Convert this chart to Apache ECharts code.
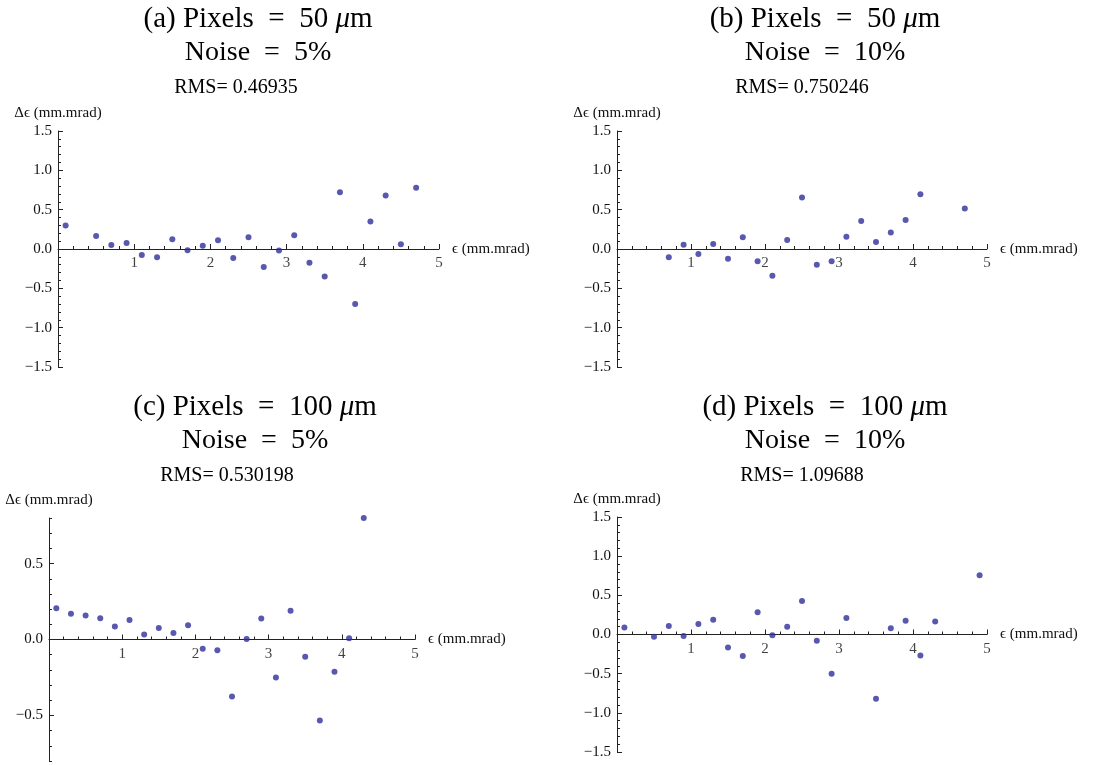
<!DOCTYPE html>
<html><head><meta charset="utf-8">
<script src="https://cdn.jsdelivr.net/npm/echarts@6/dist/echarts.min.js"></script>
<style>html,body{margin:0;padding:0;background:#fff}#c{width:1101px;height:765px}</style>
</head><body><div id="c"></div>
<script>
// ---------- data ----------
const xA = [0.1,0.5,0.7,0.9,1.1,1.3,1.5,1.7,1.9,2.1,2.3,2.5,2.7,2.9,3.1,3.3,3.5,3.7,3.9,4.1,4.3,4.5,4.7];
const yA = [0.30,0.165,0.05,0.075,-0.075,-0.105,0.125,-0.015,0.04,0.11,-0.115,0.15,-0.23,-0.02,0.175,-0.175,-0.35,0.72,-0.70,0.35,0.68,0.06,0.78];

const xB = [0.7,0.9,1.1,1.3,1.5,1.7,1.9,2.1,2.3,2.5,2.7,2.9,3.1,3.3,3.5,3.7,3.9,4.1,4.7];
const yB = [-0.105,0.055,-0.065,0.065,-0.125,0.15,-0.155,-0.34,0.115,0.655,-0.20,-0.155,0.155,0.355,0.09,0.21,0.37,0.695,0.515];

const xC = [0.1,0.3,0.5,0.7,0.9,1.1,1.3,1.5,1.7,1.9,2.1,2.3,2.5,2.7,2.9,3.1,3.3,3.5,3.7,3.9,4.1,4.3];
const yC = [0.205,0.17,0.158,0.14,0.086,0.129,0.033,0.075,0.042,0.094,-0.061,-0.07,-0.375,0.004,0.138,-0.25,0.189,-0.114,-0.533,-0.213,0.009,0.80];

const xD = [0.1,0.5,0.7,0.9,1.1,1.3,1.5,1.7,1.9,2.1,2.3,2.5,2.7,2.9,3.1,3.5,3.7,3.9,4.1,4.3,4.9];
const yD = [0.09,-0.03,0.11,-0.02,0.135,0.187,-0.166,-0.276,0.285,-0.008,0.098,0.429,-0.081,-0.501,0.212,-0.82,0.081,0.174,-0.268,0.166,0.756];

const panelLetters = ['(a)','(b)','(c)','(d)'];
const pixelSizes = [50, 50, 100, 100];
const noiseLevels = [5, 10, 5, 10];
const rmsValues = ['0.46935', '0.750246', '0.530198', '1.09688'];
const xRange = [0, 5];
const xTickLabels = [1, 2, 3, 4, 5];
const yRanges = [[-1.5, 1.5], [-1.5, 1.5], [-0.8, 0.8], [-1.5, 1.5]];
const yMajorTicksC = [-0.5, 0, 0.5];
const yAxisTitle = 'Δϵ (mm.mrad)';
const xAxisTitle = 'ϵ (mm.mrad)';

// ---------- layout ----------
const panelsX = [xA, xB, xC, xD];
const panelsY = [yA, yB, yC, yD];
const grids = [
  {left: 58, top: 131, width: 381, height: 236},
  {left: 617, top: 131, width: 370, height: 236},
  {left: 49, top: 518, width: 366, height: 243},
  {left: 617, top: 517, width: 370, height: 235}
];
const titlePos = [
  {cx: 258, rx: 236, y: 19},
  {cx: 825, rx: 802, y: 19},
  {cx: 255, rx: 227, y: 407},
  {cx: 825, rx: 802, y: 407}
];
const SERIF = '"Liberation Serif", "DejaVu Serif", serif';
const AX = '#222';
const DOT = '#2e2e9a';
const SP = '\u2002';

const yFmt = v => (v < 0 ? '\u2212' : '') + Math.abs(v).toFixed(1);

const option = {
  animation: false,
  backgroundColor: '#fff',
  grid: grids.map(g => Object.assign({outerBoundsMode: 'none'}, g)),
  xAxis: [], yAxis: [], series: [], graphic: []
};

grids.forEach((g, i) => {
  option.xAxis.push({
    type: 'value', gridIndex: i, min: xRange[0], max: xRange[1], interval: 1,
    name: xAxisTitle, nameLocation: 'end', nameGap: 13,
    nameTextStyle: {fontFamily: SERIF, fontSize: 15, color: '#111', align: 'left', verticalAlign: 'middle'},
    axisLine: {show: true, onZero: true, lineStyle: {color: AX, width: 1}},
    axisTick: {show: true, inside: true, length: 5, lineStyle: {color: AX}},
    minorTick: {show: true, splitNumber: 5, length: 3, lineStyle: {color: AX}},
    axisLabel: {show: false},
    splitLine: {show: false}
  });
  const yr = yRanges[i];
  if (i === 2) {
    option.yAxis.push({
      type: 'value', gridIndex: i, min: yr[0], max: yr[1], interval: 0.1,
      name: yAxisTitle, nameLocation: 'end', nameGap: 10,
      nameTextStyle: {fontFamily: SERIF, fontSize: 15, color: '#111', align: 'center'},
      axisLine: {show: true, onZero: false, lineStyle: {color: AX, width: 1}},
      axisTick: {show: true, inside: true, length: 3, lineStyle: {color: AX}},
      axisLabel: {customValues: yMajorTicksC, formatter: yFmt, fontFamily: SERIF, fontSize: 15, color: '#111', margin: 6},
      splitLine: {show: false}
    });
  } else {
    option.yAxis.push({
      type: 'value', gridIndex: i, min: yr[0], max: yr[1], interval: 0.5,
      name: yAxisTitle, nameLocation: 'end', nameGap: 10,
      nameTextStyle: {fontFamily: SERIF, fontSize: 15, color: '#111', align: 'center'},
      axisLine: {show: true, onZero: false, lineStyle: {color: AX, width: 1}},
      axisTick: {show: true, inside: true, length: 5, lineStyle: {color: AX}},
      minorTick: {show: true, splitNumber: 5, length: 3, lineStyle: {color: AX}},
      axisLabel: {formatter: yFmt, fontFamily: SERIF, fontSize: 15, color: '#111', margin: 6},
      splitLine: {show: false}
    });
  }
});

// extra axis in panel (c) carrying the longer major ticks
option.yAxis.push({
  type: 'value', gridIndex: 2, min: yRanges[2][0], max: yRanges[2][1], interval: 0.1,
  position: 'left', offset: 0,
  axisLine: {show: false}, axisLabel: {show: false}, splitLine: {show: false},
  axisTick: {show: true, inside: true, length: 5, customValues: yMajorTicksC, lineStyle: {color: AX}}
});

grids.forEach((g, i) => {
  option.series.push({
    type: 'scatter', xAxisIndex: i, yAxisIndex: i,
    symbol: 'circle', symbolSize: 6, clip: true,
    itemStyle: {color: DOT},
    data: panelsX[i].map((x, k) => [x, panelsY[i][k]]),
    z: 3
  });
  // x tick labels sitting just under the zero line (as in the original)
  option.series.push({
    type: 'scatter', xAxisIndex: i, yAxisIndex: i,
    symbol: 'circle', symbolSize: 0, silent: true,
    data: xTickLabels.map(v => [v, 0]),
    label: {
      show: true, position: 'bottom', distance: 7,
      formatter: p => String(p.value[0]),
      fontFamily: SERIF, fontSize: 15, color: '#111'
    },
    labelLayout: {hideOverlap: false},
    z: 1
  });
  const p = titlePos[i];
  option.graphic.push({
    type: 'text', x: p.cx, y: p.y,
    style: {
      text: '{r|' + panelLetters[i] + ' Pixels' + SP + '=' + SP + pixelSizes[i] + ' }{m|μ}{r|m}',
      align: 'center', verticalAlign: 'middle', fill: '#000',
      rich: {
        r: {fontFamily: SERIF, fontSize: 29, fill: '#000'},
        m: {fontFamily: SERIF, fontSize: 29, fontStyle: 'italic', fill: '#000'}
      }
    }
  });
  option.graphic.push({
    type: 'text', x: p.cx, y: p.y + 34,
    style: {
      text: 'Noise' + SP + '=' + SP + noiseLevels[i] + '%',
      font: '28px ' + SERIF, align: 'center', verticalAlign: 'middle', fill: '#000'
    }
  });
  option.graphic.push({
    type: 'text', x: p.rx, y: p.y + 69,
    style: {
      text: 'RMS= ' + rmsValues[i],
      font: '20px ' + SERIF, align: 'center', verticalAlign: 'middle', fill: '#000'
    }
  });
});

const chart = echarts.init(document.getElementById('c'), null, {renderer: 'canvas'});
chart.setOption(option);
</script>
</body></html>
